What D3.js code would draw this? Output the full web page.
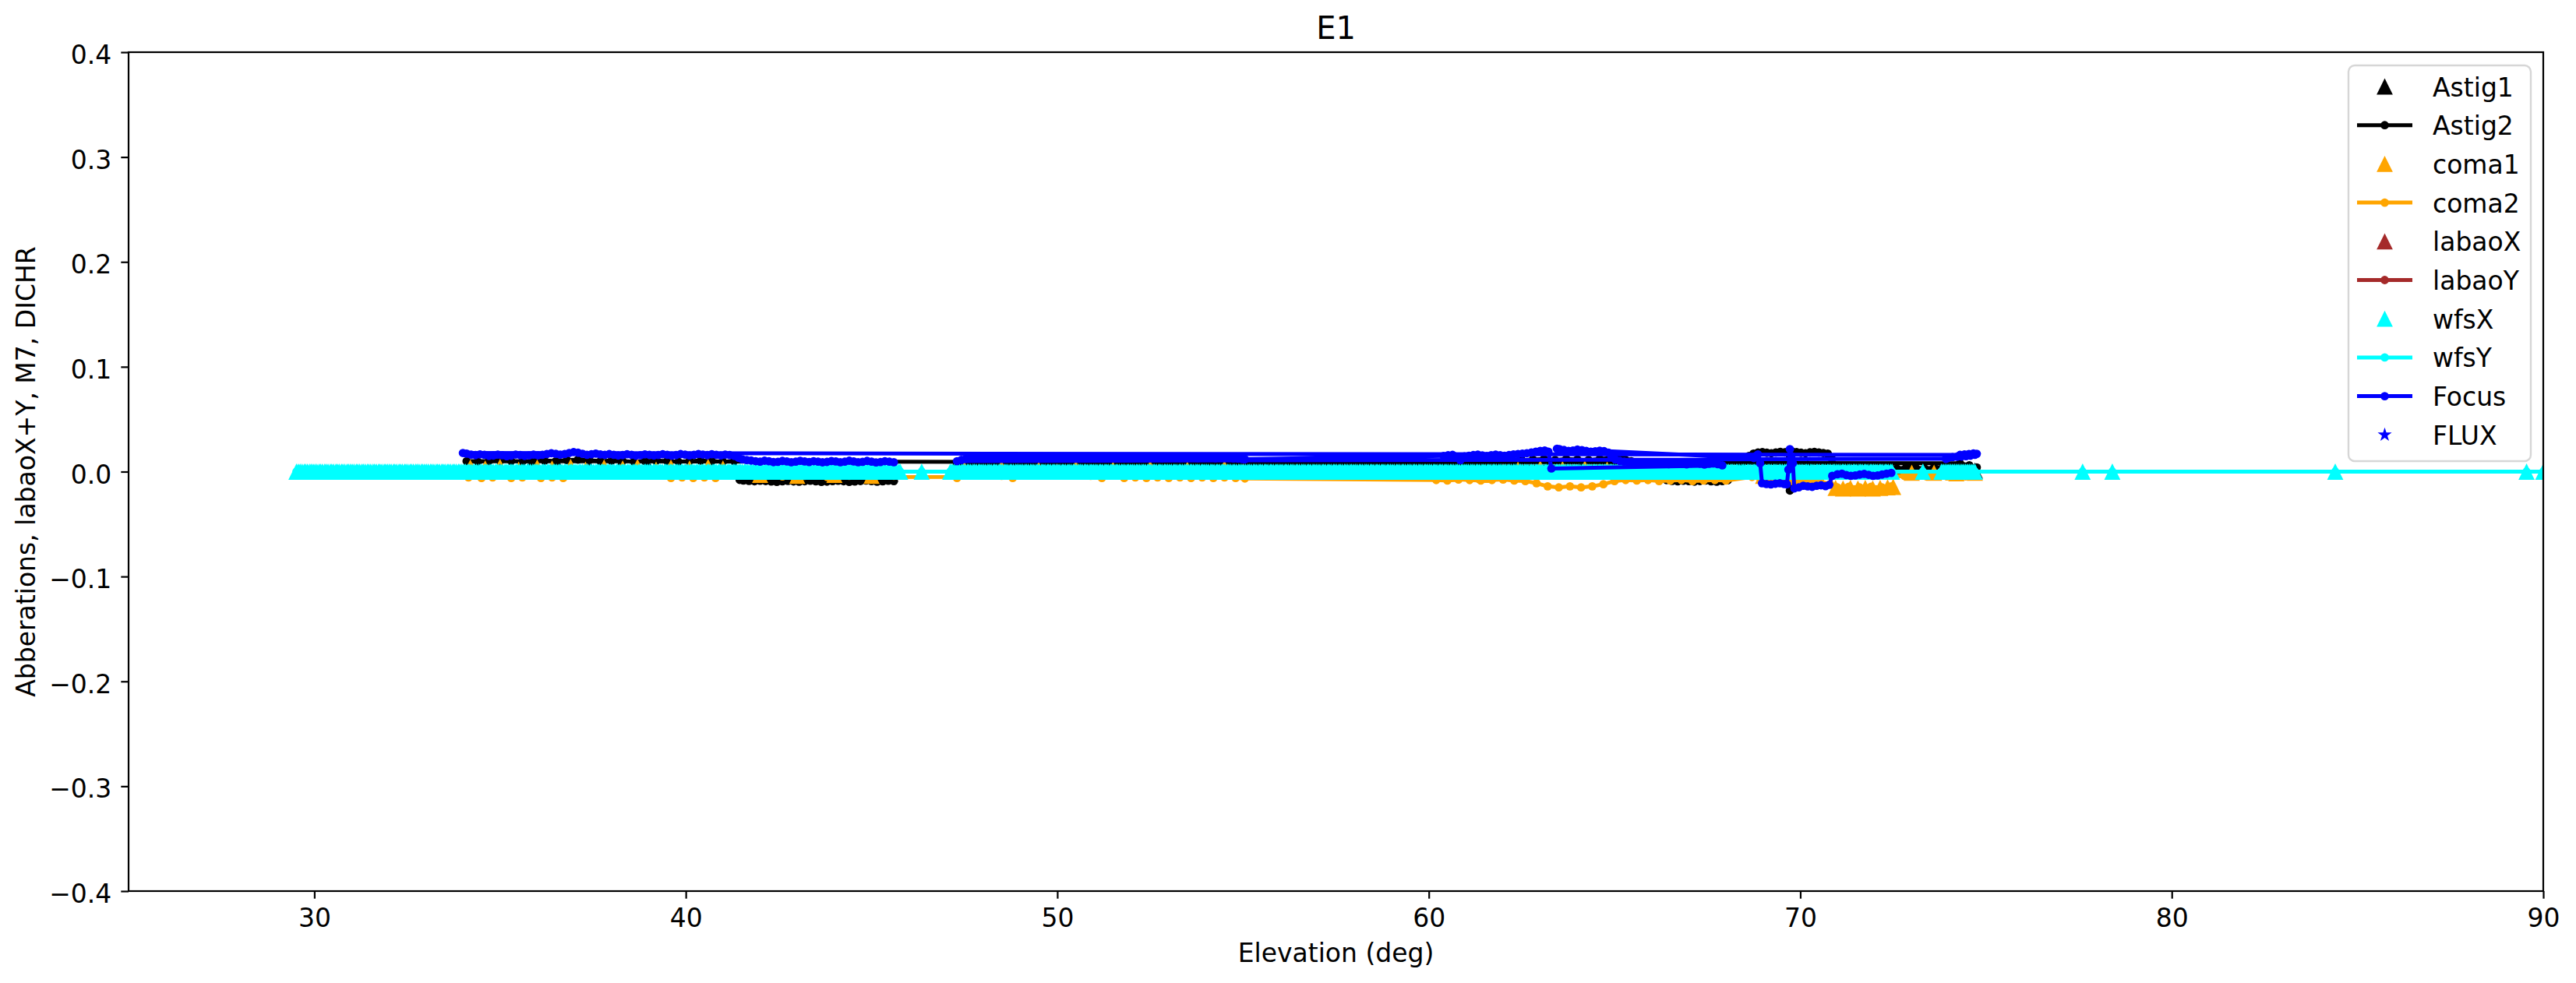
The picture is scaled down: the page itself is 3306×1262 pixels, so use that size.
<!DOCTYPE html>
<html><head><meta charset="utf-8">
<script src="https://cdn.jsdelivr.net/npm/d3@7"></script>
<style>
html,body{margin:0;padding:0;background:#fff}
svg{display:block}
text{font-family:"DejaVu Sans",sans-serif;fill:#000}
</style>
</head><body>
<svg id="chart" width="3306" height="1262"></svg>
<script>
// ---------------- DATA ----------------
const titleText = "E1";
const xLabel = "Elevation (deg)";
const yLabel = "Abberations, labaoX+Y, M7, DICHR";
const xDomain = [25, 90];
const yDomain = [-0.4, 0.4];
const xTicks = [30, 40, 50, 60, 70, 80, 90];
const yTicks = [-0.4, -0.3, -0.2, -0.1, 0.0, 0.1, 0.2, 0.3, 0.4];
const seriesNames = ["Astig1","Astig2","coma1","coma2","labaoX","labaoY","wfsX","wfsY","Focus","FLUX"];

// wfsX / wfsY share elevations (one row per degree)
const wfsElev = [
 29.52,29.57,29.62,29.67,29.73, 29.77,29.82,29.88,29.92,29.97,                                                        // 29 (10)
 30.02,30.07,30.13,30.17,30.22, 30.28,30.32,30.37,30.43,30.47, 30.52,30.58,30.62,30.67,30.73, 30.77,30.82,30.88,30.92,30.97, // 30
 31.02,31.07,31.13,31.17,31.22, 31.28,31.32,31.37,31.43,31.47, 31.52,31.58,31.62,31.67,31.73, 31.77,31.82,31.88,31.92,31.97, // 31
 32.02,32.07,32.13,32.17,32.22, 32.28,32.32,32.37,32.43,32.47, 32.52,32.58,32.62,32.67,32.73, 32.77,32.82,32.88,32.92,32.97, // 32
 33.02,33.07,33.13,33.17,33.22, 33.28,33.32,33.37,33.43,33.47, 33.52,33.58,33.62,33.67,33.73, 33.77,33.82,33.88,33.92,33.97, // 33
 34.02,34.07,34.13,34.17,34.22, 34.28,34.32,34.37,34.43,34.47, 34.52,34.58,34.62,34.67,34.73, 34.77,34.82,34.88,34.92,34.97, // 34
 35.02,35.07,35.13,35.17,35.22, 35.28,35.32,35.37,35.43,35.47, 35.52,35.58,35.62,35.67,35.73, 35.77,35.82,35.88,35.92,35.97, // 35
 36.02,36.07,36.13,36.17,36.22, 36.28,36.32,36.37,36.43,36.47, 36.52,36.58,36.62,36.67,36.73, 36.77,36.82,36.88,36.92,36.97, // 36
 37.02,37.07,37.13,37.17,37.22, 37.28,37.32,37.37,37.43,37.47, 37.52,37.58,37.62,37.67,37.73, 37.77,37.82,37.88,37.92,37.97, // 37
 38.02,38.07,38.13,38.17,38.22, 38.28,38.32,38.37,38.43,38.47, 38.52,38.58,38.62,38.67,38.73, 38.77,38.82,38.88,38.92,38.97, // 38
 39.02,39.07,39.13,39.17,39.22, 39.28,39.32,39.37,39.43,39.47, 39.52,39.58,39.62,39.67,39.73, 39.77,39.82,39.88,39.92,39.97, // 39
 40.02,40.07,40.13,40.17,40.22, 40.28,40.32,40.37,40.43,40.47, 40.52,40.58,40.62,40.67,40.73, 40.77,40.82,40.88,40.92,40.97, // 40
 41.02,41.07,41.13,41.17,41.22, 41.28,41.32,41.37,41.43,41.47, 41.52,41.58,41.62,41.67,41.73, 41.77,41.82,41.88,41.92,41.97, // 41
 42.02,42.07,42.13,42.17,42.22, 42.28,42.32,42.37,42.43,42.47, 42.52,42.58,42.62,42.67,42.73, 42.77,42.82,42.88,42.92,42.97, // 42
 43.02,43.07,43.13,43.17,43.22, 43.28,43.32,43.37,43.43,43.47, 43.52,43.58,43.62,43.67,43.73, 43.77,43.82,43.88,43.92,43.97, // 43
 44.02,44.07,44.13,44.17,44.22, 44.28,44.32,44.37,44.43,44.47, 44.52,44.58,44.62,44.67,44.73, 44.77,44.82,44.88,44.92,44.97, // 44
 45.02,45.07,45.13,45.17,45.22, 45.28,45.32,45.37,45.43,45.47, 45.52,45.58,45.62,45.67,45.73, 45.77,                   // 45 (16)
 46.35,                                                                                                                // 46 (1)
 47.12,47.17,47.22,47.28,47.32, 47.37,47.43,47.47,47.52,47.58, 47.62,47.67,47.73,47.77,47.82, 47.88,47.92,47.97,       // 47 (18)
 48.02,48.07,48.13,48.17,48.22, 48.28,48.32,48.37,48.43,48.47, 48.52,48.58,48.62,48.67,48.73, 48.77,48.82,48.88,48.92,48.97, // 48
 49.02,49.07,49.13,49.17,49.22, 49.28,49.32,49.37,49.43,49.47, 49.52,49.58,49.62,49.67,49.73, 49.77,49.82,49.88,49.92,49.97, // 49
 50.02,50.07,50.13,50.17,50.22, 50.28,50.32,50.37,50.43,50.47, 50.52,50.58,50.62,50.67,50.73, 50.77,50.82,50.88,50.92,50.97, // 50
 51.02,51.07,51.13,51.17,51.22, 51.28,51.32,51.37,51.43,51.47, 51.52,51.58,51.62,51.67,51.73, 51.77,51.82,51.88,51.92,51.97, // 51
 52.02,52.07,52.13,52.17,52.22, 52.28,52.32,52.37,52.43,52.47, 52.52,52.58,52.62,52.67,52.73, 52.77,52.82,52.88,52.92,52.97, // 52
 53.02,53.07,53.13,53.17,53.22, 53.28,53.32,53.37,53.43,53.47, 53.52,53.58,53.62,53.67,53.73, 53.77,53.82,53.88,53.92,53.97, // 53
 54.02,54.07,54.13,54.17,54.22, 54.28,54.32,54.37,54.43,54.47, 54.52,54.58,54.62,54.67,54.73, 54.77,54.82,54.88,54.92,54.97, // 54
 55.02,55.07,55.13,55.17,55.22, 55.28,55.32,55.37,55.43,55.47, 55.52,55.58,55.62,55.67,55.73, 55.77,55.82,55.88,55.92,55.97, // 55
 56.02,56.07,56.13,56.17,56.22, 56.28,56.32,56.37,56.43,56.47, 56.52,56.58,56.62,56.67,56.73, 56.77,56.82,56.88,56.92,56.97, // 56
 57.02,57.07,57.13,57.17,57.22, 57.28,57.32,57.37,57.43,57.47, 57.52,57.58,57.62,57.67,57.73, 57.77,57.82,57.88,57.92,57.97, // 57
 58.02,58.07,58.13,58.17,58.22, 58.28,58.32,58.37,58.43,58.47, 58.52,58.58,58.62,58.67,58.73, 58.77,58.82,58.88,58.92,58.97, // 58
 59.02,59.07,59.13,59.17,59.22, 59.28,59.32,59.37,59.43,59.47, 59.52,59.58,59.62,59.67,59.73, 59.77,59.82,59.88,59.92,59.97, // 59
 60.02,60.07,60.13,60.17,60.22, 60.28,60.32,60.37,60.43,60.47, 60.52,60.58,60.62,60.67,60.73, 60.77,60.82,60.88,60.92,60.97, // 60
 61.02,61.07,61.13,61.17,61.22, 61.28,61.32,61.37,61.43,61.47, 61.52,61.58,61.62,61.67,61.73, 61.77,61.82,61.88,61.92,61.97, // 61
 62.02,62.07,62.13,62.17,62.22, 62.28,62.32,62.37,62.43,62.47, 62.52,62.58,62.62,62.67,62.73, 62.77,62.82,62.88,62.92,62.97, // 62
 63.02,63.07,63.13,63.17,63.22, 63.28,63.32,63.37,63.43,63.47, 63.52,63.58,63.62,63.67,63.73, 63.77,63.82,63.88,63.92,63.97, // 63
 64.02,64.07,64.13,64.17,64.22, 64.28,64.32,64.37,64.43,64.47, 64.52,64.58,64.62,64.67,64.73, 64.77,64.82,64.88,64.92,64.97, // 64
 65.02,65.07,65.13,65.17,65.22, 65.28,65.32,65.37,65.43,65.47, 65.52,65.58,65.62,65.67,65.73, 65.77,65.82,65.88,65.92,65.97, // 65
 66.02,66.07,66.13,66.17,66.22, 66.28,66.32,66.37,66.43,66.47, 66.52,66.58,66.62,66.67,66.73, 66.77,66.82,66.88,66.92,66.97, // 66
 67.02,67.07,67.13,67.17,67.22, 67.28,67.32,67.37,67.43,67.47, 67.52,67.58,67.62,67.67,67.73, 67.77,67.82,67.88,67.92,67.97, // 67
 68.02,68.07,68.13,68.17,68.22, 68.28,68.32,68.37,68.43,68.47, 68.52,68.58,68.62,68.67,68.73, 68.77,68.82,68.88,68.92,68.97, // 68
 69.02,69.07,69.13,69.17,69.22, 69.28,69.32,69.37,69.43,69.47, 69.52,69.58,69.62,69.67,69.73, 69.77,69.82,69.88,69.92,69.97, // 69
 70.02,70.07,70.13,70.17,70.22, 70.28,70.32,70.37,70.43,70.47, 70.52,70.58,70.62,70.67,70.73, 70.77,70.82,70.88,70.92,70.97, // 70
 71.02,71.07,71.13,71.17,71.22, 71.28,71.32,71.37,71.43,71.47, 71.52,71.58,71.62,71.67,71.73, 71.77,71.82,71.88,71.92,71.97, // 71
 72.02,72.07,72.13,72.17,72.22, 72.28,72.32,72.37,72.43,72.47,                                                        // 72 (10)
 73.30,                                                                                                                // 73 (1)
 73.80,73.85,73.90,73.95,74.00, 74.05,74.10,74.15,74.20,74.25, 74.30,74.35,74.40,74.45,74.50, 74.55,74.60,74.65,74.70, // 74 (19)
 77.60,78.40,84.40,89.55,90.00                                                                                         // far (5)
];
const wfsXVal = [
 0,0,0,0,0, 0,0,0,0,0,                               // 29 (10)
 0,0,0,0,0, 0,0,0,0,0, 0,0,0,0,0, 0,0,0,0,0,         // 30
 0,0,0,0,0, 0,0,0,0,0, 0,0,0,0,0, 0,0,0,0,0,         // 31
 0,0,0,0,0, 0,0,0,0,0, 0,0,0,0,0, 0,0,0,0,0,         // 32
 0,0,0,0,0, 0,0,0,0,0, 0,0,0,0,0, 0,0,0,0,0,         // 33
 0,0,0,0,0, 0,0,0,0,0, 0,0,0,0,0, 0,0,0,0,0,         // 34
 0,0,0,0,0, 0,0,0,0,0, 0,0,0,0,0, 0,0,0,0,0,         // 35
 0,0,0,0,0, 0,0,0,0,0, 0,0,0,0,0, 0,0,0,0,0,         // 36
 0,0,0,0,0, 0,0,0,0,0, 0,0,0,0,0, 0,0,0,0,0,         // 37
 0,0,0,0,0, 0,0,0,0,0, 0,0,0,0,0, 0,0,0,0,0,         // 38
 0,0,0,0,0, 0,0,0,0,0, 0,0,0,0,0, 0,0,0,0,0,         // 39
 0,0,0,0,0, 0,0,0,0,0, 0,0,0,0,0, 0,0,0,0,0,         // 40
 0,0,0,0,0, 0,0,0,0,0, 0,0,0,0,0, 0,0,0,0,0,         // 41
 0,0,0,0,0, 0,0,0,0,0, 0,0,0,0,0, 0,0,0,0,0,         // 42
 0,0,0,0,0, 0,0,0,0,0, 0,0,0,0,0, 0,0,0,0,0,         // 43
 0,0,0,0,0, 0,0,0,0,0, 0,0,0,0,0, 0,0,0,0,0,         // 44
 0,0,0,0,0, 0,0,0,0,0, 0,0,0,0,0, 0,                 // 45 (16)
 0,                                                  // 46 (1)
 0,0,0,0,0, 0,0,0,0,0, 0,0,0,0,0, 0,0,0,             // 47 (18)
 0,0,0,0,0, 0,0,0,0,0, 0,0,0,0,0, 0,0,0,0,0,         // 48
 0,0,0,0,0, 0,0,0,0,0, 0,0,0,0,0, 0,0,0,0,0,         // 49
 0,0,0,0,0, 0,0,0,0,0, 0,0,0,0,0, 0,0,0,0,0,         // 50
 0,0,0,0,0, 0,0,0,0,0, 0,0,0,0,0, 0,0,0,0,0,         // 51
 0,0,0,0,0, 0,0,0,0,0, 0,0,0,0,0, 0,0,0,0,0,         // 52
 0,0,0,0,0, 0,0,0,0,0, 0,0,0,0,0, 0,0,0,0,0,         // 53
 0,0,0,0,0, 0,0,0,0,0, 0,0,0,0,0, 0,0,0,0,0,         // 54
 0,0,0,0,0, 0,0,0,0,0, 0,0,0,0,0, 0,0,0,0,0,         // 55
 0,0,0,0,0, 0,0,0,0,0, 0,0,0,0,0, 0,0,0,0,0,         // 56
 0,0,0,0,0, 0,0,0,0,0, 0,0,0,0,0, 0,0,0,0,0,         // 57
 0,0,0,0,0, 0,0,0,0,0, 0,0,0,0,0, 0,0,0,0,0,         // 58
 0,0,0,0,0, 0,0,0,0,0, 0,0,0,0,0, 0,0,0,0,0,         // 59
 0,0,0,0,0, 0,0,0,0,0, 0,0,0,0,0, 0,0,0,0,0,         // 60
 0,0,0,0,0, 0,0,0,0,0, 0,0,0,0,0, 0,0,0,0,0,         // 61
 0,0,0,0,0, 0,0,0,0,0, 0,0,0,0,0, 0,0,0,0,0,         // 62
 0,0,0,0,0, 0,0,0,0,0, 0,0,0,0,0, 0,0,0,0,0,         // 63
 0,0,0,0,0, 0,0,0,0,0, 0,0,0,0,0, 0,0,0,0,0,         // 64
 0,0,0,0,0, 0,0,0,0,0, 0,0,0,0,0, 0,0,0,0,0,         // 65
 0,0,0,0,0, 0,0,0,0,0, 0,0,0,0,0, 0,0,0,0,0,         // 66
 0,0,0,0,0, 0,0,0,0,0, 0,0,0,0,0, 0,0,0,0,0,         // 67
 0,0,0,0,0, 0,0,0,0,0, 0,0,0,0,0, 0,0,0,0,0,         // 68
 0,0,0,0,0, 0,0,0,0,0, 0,0,0,0,0, 0,0,0,0,0,         // 69
 0,0,0,0,0, 0,0,0,0,0, 0,0,0,0,0, 0,0,0,0,0,         // 70
 0,0,0,0,0, 0,0,0,0,0, 0,0,0,0,0, 0,0,0,0,0,         // 71
 0,0,0,0,0, 0,0,0,0,0,                               // 72 (10)
 0,                                                  // 73 (1)
 0,0,0,0,0, 0,0,0,0,0, 0,0,0,0,0, 0,0,0,0,           // 74 (19)
 0,0,0,0,0                                           // far (5)
];
const wfsYVal = [
 0,0,0,0,0, 0,0,0,0,0,                               // 29 (10)
 0,0,0,0,0, 0,0,0,0,0, 0,0,0,0,0, 0,0,0,0,0,         // 30
 0,0,0,0,0, 0,0,0,0,0, 0,0,0,0,0, 0,0,0,0,0,         // 31
 0,0,0,0,0, 0,0,0,0,0, 0,0,0,0,0, 0,0,0,0,0,         // 32
 0,0,0,0,0, 0,0,0,0,0, 0,0,0,0,0, 0,0,0,0,0,         // 33
 0,0,0,0,0, 0,0,0,0,0, 0,0,0,0,0, 0,0,0,0,0,         // 34
 0,0,0,0,0, 0,0,0,0,0, 0,0,0,0,0, 0,0,0,0,0,         // 35
 0,0,0,0,0, 0,0,0,0,0, 0,0,0,0,0, 0,0,0,0,0,         // 36
 0,0,0,0,0, 0,0,0,0,0, 0,0,0,0,0, 0,0,0,0,0,         // 37
 0,0,0,0,0, 0,0,0,0,0, 0,0,0,0,0, 0,0,0,0,0,         // 38
 0,0,0,0,0, 0,0,0,0,0, 0,0,0,0,0, 0,0,0,0,0,         // 39
 0,0,0,0,0, 0,0,0,0,0, 0,0,0,0,0, 0,0,0,0,0,         // 40
 0,0,0,0,0, 0,0,0,0,0, 0,0,0,0,0, 0,0,0,0,0,         // 41
 0,0,0,0,0, 0,0,0,0,0, 0,0,0,0,0, 0,0,0,0,0,         // 42
 0,0,0,0,0, 0,0,0,0,0, 0,0,0,0,0, 0,0,0,0,0,         // 43
 0,0,0,0,0, 0,0,0,0,0, 0,0,0,0,0, 0,0,0,0,0,         // 44
 0,0,0,0,0, 0,0,0,0,0, 0,0,0,0,0, 0,                 // 45 (16)
 0,                                                  // 46 (1)
 0,0,0,0,0, 0,0,0,0,0, 0,0,0,0,0, 0,0,0,             // 47 (18)
 0,0,0,0,0, 0,0,0,0,0, 0,0,0,0,0, 0,0,0,0,0,         // 48
 0,0,0,0,0, 0,0,0,0,0, 0,0,0,0,0, 0,0,0,0,0,         // 49
 0,0,0,0,0, 0,0,0,0,0, 0,0,0,0,0, 0,0,0,0,0,         // 50
 0,0,0,0,0, 0,0,0,0,0, 0,0,0,0,0, 0,0,0,0,0,         // 51
 0,0,0,0,0, 0,0,0,0,0, 0,0,0,0,0, 0,0,0,0,0,         // 52
 0,0,0,0,0, 0,0,0,0,0, 0,0,0,0,0, 0,0,0,0,0,         // 53
 0,0,0,0,0, 0,0,0,0,0, 0,0,0,0,0, 0,0,0,0,0,         // 54
 0,0,0,0,0, 0,0,0,0,0, 0,0,0,0,0, 0,0,0,0,0,         // 55
 0,0,0,0,0, 0,0,0,0,0, 0,0,0,0,0, 0,0,0,0,0,         // 56
 0,0,0,0,0, 0,0,0,0,0, 0,0,0,0,0, 0,0,0,0,0,         // 57
 0,0,0,0,0, 0,0,0,0,0, 0,0,0,0,0, 0,0,0,0,0,         // 58
 0,0,0,0,0, 0,0,0,0,0, 0,0,0,0,0, 0,0,0,0,0,         // 59
 0,0,0,0,0, 0,0,0,0,0, 0,0,0,0,0, 0,0,0,0,0,         // 60
 0,0,0,0,0, 0,0,0,0,0, 0,0,0,0,0, 0,0,0,0,0,         // 61
 0,0,0,0,0, 0,0,0,0,0, 0,0,0,0,0, 0,0,0,0,0,         // 62
 0,0,0,0,0, 0,0,0,0,0, 0,0,0,0,0, 0,0,0,0,0,         // 63
 0,0,0,0,0, 0,0,0,0,0, 0,0,0,0,0, 0,0,0,0,0,         // 64
 0,0,0,0,0, 0,0,0,0,0, 0,0,0,0,0, 0,0,0,0,0,         // 65
 0,0,0,0,0, 0,0,0,0,0, 0,0,0,0,0, 0,0,0,0,0,         // 66
 0,0,0,0,0, 0,0,0,0,0, 0,0,0,0,0, 0,0,0,0,0,         // 67
 0,0,0,0,0, 0,0,0,0,0, 0,0,0,0,0, 0,0,0,0,0,         // 68
 0,0,0,0,0, 0,0,0,0,0, 0,0,0,0,0, 0,0,0,0,0,         // 69
 0,0,0,0,0, 0,0,0,0,0, 0,0,0,0,0, 0,0,0,0,0,         // 70
 0,0,0,0,0, 0,0,0,0,0, 0,0,0,0,0, 0,0,0,0,0,         // 71
 0,0,0,0,0, 0,0,0,0,0,                               // 72 (10)
 0,                                                  // 73 (1)
 0,0,0,0,0, 0,0,0,0,0, 0,0,0,0,0, 0,0,0,0,           // 74 (19)
 0,0,0,0,0                                           // far (5)
];

// Focus (time order, so the line jumps between elevations)
const focusElev = [
 45.60,45.48,45.36,45.24,45.12,45.00,44.88,44.76,44.64,44.52,44.40,44.28,44.16,44.04,43.92,43.80,43.68,43.56,
 43.44,43.32,43.20,43.08,42.96,42.84,42.72,42.60,42.48,42.36,42.24,42.12,42.00,41.88,41.76,41.64,41.52,41.42,
 41.30,41.18,41.06,40.94,40.82,40.70,40.58,40.46,40.34,40.22,40.10,39.98,39.86,39.74,39.62,39.50,39.38,39.26,
 39.14,39.02,38.90,38.78,38.66,38.54,38.42,38.30,38.18,38.06,37.94,37.82,37.70,37.58,37.46,37.34,37.22,37.10,
 36.98,36.86,36.74,36.62,36.50,36.38,36.26,36.14,36.02,35.90,35.78,35.66,35.54,35.42,35.30,35.18,35.06,34.94,
 34.82,34.70,34.58,34.46,34.34,34.22,34.10,34.00,
 74.30,74.42,74.54,74.66,74.75,74.70,74.58,74.46,74.34,74.22,74.10,73.98,73.92,
 47.30,47.42,47.54,47.66,47.78,47.90,48.02,48.14,48.26,48.38,48.50,48.62,48.74,48.86,48.98,49.10,49.22,49.34,
 49.46,49.58,49.70,49.82,49.94,50.06,50.18,50.30,50.42,50.54,50.66,50.78,50.90,51.02,51.14,51.26,51.38,51.50,
 51.62,51.74,51.86,51.98,52.10,52.22,52.34,52.46,52.58,52.70,52.82,52.94,53.06,53.18,53.30,53.42,53.54,53.66,
 53.78,53.90,54.02,54.14,54.26,54.38,54.50,54.62,54.74,54.86,54.98,55.05,
 60.40,60.52,60.64,60.76,60.85,60.96,61.08,61.20,61.32,61.44,61.56,61.68,61.80,61.92,62.04,62.16,62.28,62.40,
 62.52,62.64,62.76,62.88,63.00,63.12,63.22,63.30,
 67.90,67.78,67.66,67.54,67.42,67.30,67.18,67.06,66.94,66.82,66.70,66.58,66.46,66.34,66.22,66.10,65.98,65.86,
 65.74,65.62,65.50,65.38,65.26,65.14,65.02,64.92,64.84,64.72,64.60,64.48,64.36,64.24,64.12,64.00,63.88,63.76,
 63.64,63.52,63.45,
 68.75,68.80,68.86,68.92,68.97,69.09,69.21,69.33,69.45,69.57,69.64,69.68,69.72,69.76,69.80,69.84,69.96,70.08,
 70.20,70.32,70.44,70.56,70.68,70.78,70.86,
 71.00,71.12,71.24,71.36,71.48,71.60,71.72,71.84,71.96,72.08,72.20,72.32,72.45
];
const focusVal = [
 0.0090,0.0095,0.0100,0.0092,0.0088,0.0096,0.0102,0.0094,0.0090,0.0098,0.0104,0.0095,0.0090,0.0097,0.0101,0.0093,0.0089,0.0096,
 0.0100,0.0092,0.0098,0.0103,0.0095,0.0090,0.0097,0.0102,0.0094,0.0091,0.0099,0.0104,0.0096,0.0100,0.0106,0.0110,0.0118,0.0132,
 0.0150,0.0158,0.0162,0.0155,0.0160,0.0166,0.0158,0.0163,0.0168,0.0160,0.0155,0.0162,0.0167,0.0158,0.0153,0.0161,0.0166,0.0159,
 0.0154,0.0160,0.0165,0.0157,0.0152,0.0160,0.0166,0.0158,0.0154,0.0161,0.0167,0.0160,0.0164,0.0172,0.0166,0.0160,0.0170,0.0180,
 0.0186,0.0178,0.0168,0.0162,0.0170,0.0176,0.0168,0.0160,0.0156,0.0162,0.0155,0.0150,0.0158,0.0163,0.0152,0.0148,0.0157,0.0162,
 0.0154,0.0150,0.0160,0.0165,0.0158,0.0162,0.0172,0.0178,
 0.0160,0.0164,0.0168,0.0174,0.0170,0.0160,0.0152,0.0148,0.0145,0.0142,0.0138,0.0130,0.0122,
 0.0100,0.0112,0.0122,0.0128,0.0132,0.0136,0.0131,0.0135,0.0140,0.0134,0.0129,0.0133,0.0139,0.0136,0.0130,0.0134,0.0140,0.0135,
 0.0129,0.0134,0.0139,0.0133,0.0128,0.0135,0.0140,0.0134,0.0130,0.0136,0.0141,0.0135,0.0129,0.0133,0.0138,0.0132,0.0128,0.0135,
 0.0140,0.0134,0.0130,0.0136,0.0141,0.0135,0.0129,0.0134,0.0139,0.0133,0.0128,0.0134,0.0140,0.0135,0.0130,0.0136,0.0141,0.0134,
 0.0129,0.0135,0.0139,0.0133,0.0128,0.0134,0.0138,0.0131,0.0126,0.0124,0.0120,0.0118,
 0.0150,0.0156,0.0160,0.0140,0.0110,0.0145,0.0152,0.0158,0.0162,0.0155,0.0150,0.0157,0.0162,0.0156,0.0152,0.0158,0.0164,0.0168,
 0.0172,0.0176,0.0182,0.0190,0.0198,0.0202,0.0190,0.0030,
 0.0060,0.0072,0.0080,0.0075,0.0068,0.0076,0.0085,0.0079,0.0070,0.0074,0.0082,0.0078,0.0072,0.0080,0.0087,0.0083,0.0090,0.0086,
 0.0080,0.0085,0.0092,0.0089,0.0096,0.0102,0.0115,0.0140,0.0180,0.0195,0.0200,0.0194,0.0190,0.0197,0.0205,0.0210,0.0202,0.0198,
 0.0206,0.0214,0.0218,
 0.0130,0.0150,0.0165,0.0080,-0.0110,-0.0118,-0.0122,-0.0115,-0.0110,-0.0118,-0.0120,0.0020,0.0215,0.0150,0.0080,-0.0160,-0.0150,-0.0135,
 -0.0140,-0.0145,-0.0135,-0.0130,-0.0138,-0.0125,-0.0040,
 -0.0025,-0.0020,-0.0032,-0.0040,-0.0036,-0.0028,-0.0022,-0.0030,-0.0040,-0.0036,-0.0028,-0.0020,-0.0012
];

const astig2Elev = [
 45.60,45.45,45.30,45.15,45.00,44.85,44.70,44.55,44.40,44.25,44.10,43.95,43.80,43.65,43.50,43.35,43.20,43.05,
 42.90,42.75,42.60,42.45,42.30,42.15,42.00,41.85,41.70,41.55,41.45,
 41.30,41.00,40.70,40.40,40.10,39.80,39.50,39.20,38.90,38.60,38.30,38.00,37.70,37.40,37.10,36.80,36.50,36.20,
 35.90,35.60,35.30,35.00,34.70,34.40,34.10,
 74.30,74.55,74.75,74.60,74.35,74.10,73.85,73.60,73.35,73.10,72.85,72.60,
 47.30,47.60,47.90,48.20,48.50,48.80,49.10,49.40,49.70,50.00,50.30,50.60,50.90,51.20,51.50,51.80,52.10,52.40,
 52.70,53.00,53.30,53.60,53.90,54.20,54.50,54.80,55.05,
 60.40,60.70,61.00,61.30,61.60,61.90,62.20,62.50,62.80,63.10,63.40,63.70,64.00,64.30,64.60,64.90,65.20,65.45,
 65.70,66.00,66.40,66.55,66.70,66.85,67.00,67.15,67.30,67.45,67.60,67.75,67.90,68.05,
 68.40,68.62,68.74,68.86,68.98,69.10,69.22,69.34,69.46,69.58,69.66,69.72,69.78,69.90,70.02,70.14,70.26,70.38,
 70.50,70.62,70.74,70.85,
 71.00,71.30,71.60,71.90,72.20,72.45
];
const astig2Val = [
 -0.0090,-0.0086,-0.0092,-0.0096,-0.0090,-0.0085,-0.0089,-0.0094,-0.0097,-0.0091,-0.0086,-0.0090,-0.0095,-0.0098,-0.0092,-0.0087,-0.0091,-0.0096,
 -0.0093,-0.0088,-0.0092,-0.0097,-0.0094,-0.0089,-0.0086,-0.0091,-0.0088,-0.0084,-0.0078,
 0.0100,0.0095,0.0100,0.0105,0.0100,0.0095,0.0100,0.0105,0.0100,0.0095,0.0100,0.0105,0.0100,0.0110,0.0115,0.0110,0.0100,0.0105,
 0.0100,0.0095,0.0100,0.0105,0.0100,0.0095,0.0100,
 0.0080,0.0060,0.0040,0.0030,0.0040,0.0030,0.0040,0.0040,0.0030,0.0040,0.0040,0.0030,
 0.0070,0.0080,0.0085,0.0075,0.0080,0.0070,0.0075,0.0080,0.0070,0.0075,0.0080,0.0070,0.0075,0.0080,0.0070,0.0075,0.0080,0.0070,
 0.0075,0.0080,0.0070,0.0075,0.0080,0.0070,0.0075,0.0070,0.0070,
 0.0100,0.0110,0.0100,0.0105,0.0110,0.0100,0.0105,0.0110,0.0115,0.0120,0.0110,0.0120,0.0115,0.0110,0.0120,0.0130,0.0160,0.0100,
 0.0060,0.0020,-0.0080,-0.0088,-0.0092,-0.0086,-0.0090,-0.0095,-0.0089,-0.0085,-0.0092,-0.0096,-0.0090,-0.0082,
 0.0050,0.0150,0.0172,0.0182,0.0186,0.0180,0.0176,0.0183,0.0188,0.0184,0.0190,-0.0180,0.0192,0.0186,0.0180,0.0176,0.0184,0.0189,
 0.0183,0.0178,0.0172,0.0120,
 0.0040,0.0030,0.0040,0.0030,0.0040,0.0030
];

const astig1Elev = [34.20,35.00,35.80,36.60,37.40,38.20,39.00,39.80,40.60,41.60,42.40,43.20,44.00,44.80,45.50,
 47.40,48.30,49.20,50.10,51.00,51.90,52.80,53.70,54.60,60.50,61.40,62.30,63.20,64.10,65.00,65.90,66.80,67.70,
 68.80,69.50,70.20,71.00,71.80,72.60,73.00,73.60,74.20,74.70];
const astig1Val = [0.0030,0.0020,0.0030,0.0020,0.0030,0.0020,0.0030,0.0020,0.0030,-0.0030,-0.0030,-0.0020,-0.0030,-0.0030,-0.0020,
 0.0020,0.0020,0.0010,0.0020,0.0020,0.0010,0.0020,0.0010,0.0020,0.0030,0.0020,0.0030,0.0020,0.0030,0.0020,-0.0020,-0.0030,-0.0020,
 0.0040,0.0030,0.0040,0.0020,0.0010,0.0020,0.0020,0.0010,0.0020,0.0010];

const coma1Elev = [34.20,34.60,35.00,35.50,36.00,36.40,36.90,37.30,37.80,38.30,38.70,39.20,39.60,40.10,40.60,41.00,
 42.00,43.00,44.00,45.00,
 47.50,48.50,49.50,50.50,51.50,52.50,53.50,54.50,
 60.50,61.50,62.40,63.00,63.60,64.20,64.80,65.40,66.00,66.60,67.20,67.80,
 69.00,69.80,70.50,
 70.95,71.15,71.35,71.55,71.75,71.95,72.15,72.35,72.50,
 73.00,73.60,74.20,74.70];
const coma1Val = [0.0040,0.0030,0.0045,0.0020,0.0040,0.0030,0.0045,0.0020,0.0040,0.0030,0.0045,0.0020,0.0040,0.0030,0.0045,0.0030,
 -0.0030,-0.0040,-0.0030,-0.0040,
 0.0020,0.0030,0.0020,0.0030,0.0020,0.0030,0.0020,0.0030,
 -0.0020,-0.0030,0.0020,0.0030,0.0025,0.0030,0.0020,0.0030,0.0025,0.0030,0.0020,0.0025,
 -0.0040,-0.0050,-0.0060,
 -0.0155,-0.0160,-0.0155,-0.0160,-0.0155,-0.0160,-0.0155,-0.0150,-0.0145,
 -0.0010,-0.0010,-0.0015,-0.0010];

const coma2Elev = [
 45.60,45.00,44.40,43.80,43.20,42.60,42.00,41.45,
 41.30,41.00,40.80,40.50,40.20,39.90,39.60,39.30,39.00,38.70,38.40,38.10,37.80,37.50,37.20,36.70,36.40,36.10,
 35.80,35.60,35.30,35.00,34.80,34.50,34.15,
 74.70,74.45,74.20,73.95,73.70,73.40,73.10,72.80,
 47.30,47.60,47.90,48.20,48.50,48.80,49.10,49.40,49.70,50.00,50.30,50.60,50.90,51.20,51.50,51.80,52.10,52.40,
 52.70,53.00,53.30,53.60,53.90,54.20,54.50,54.80,55.05,
 60.20,60.50,60.80,61.10,61.40,61.70,62.00,62.30,62.60,62.90,63.20,63.50,63.80,64.10,64.40,64.70,65.00,65.30,
 65.60,65.90,66.20,66.50,66.80,67.10,67.40,67.70,68.00,
 68.70,69.00,69.30,69.60,69.90,70.20,70.50,70.80,
 71.00,71.30,71.60,71.90,72.20,72.45
];
const coma2Val = [
 -0.0040,-0.0045,-0.0040,-0.0050,-0.0040,-0.0045,-0.0040,-0.0035,
 -0.0030,-0.0035,-0.0060,-0.0055,-0.0060,-0.0055,-0.0060,-0.0030,-0.0035,-0.0030,-0.0035,-0.0030,-0.0035,-0.0030,-0.0035,-0.0060,-0.0055,-0.0060,
 -0.0030,-0.0055,-0.0060,-0.0035,-0.0055,-0.0060,-0.0055,
 -0.0040,-0.0045,-0.0040,-0.0045,-0.0040,-0.0045,-0.0040,-0.0040,
 -0.0060,-0.0035,-0.0030,-0.0035,-0.0040,-0.0060,-0.0030,-0.0035,-0.0030,-0.0035,-0.0030,-0.0035,-0.0040,-0.0060,-0.0035,-0.0060,-0.0055,-0.0060,
 -0.0055,-0.0060,-0.0055,-0.0060,-0.0055,-0.0060,-0.0055,-0.0060,-0.0065,
 -0.0080,-0.0085,-0.0075,-0.0080,-0.0085,-0.0080,-0.0075,-0.0085,-0.0090,-0.0110,-0.0140,-0.0150,-0.0140,-0.0150,-0.0140,-0.0120,-0.0090,-0.0080,
 -0.0085,-0.0080,-0.0090,-0.0085,-0.0080,-0.0090,-0.0085,-0.0080,-0.0085,
 -0.0050,-0.0080,-0.0085,-0.0080,-0.0090,-0.0085,-0.0090,-0.0120,
 -0.0150,-0.0145,-0.0150,-0.0145,-0.0150,-0.0140
];

const labaoElev = [35.00,40.00,44.00,50.00,55.00,62.00,67.00];
const labaoXVal = [0,0,0,0,0,0,0];
const labaoYVal = [0,0,0,0,0,0,0];

const fluxElev = [];
const fluxVal = [];

// --------------- DRAWING ---------------
const W = 3306, H = 1262;
const M = {left:165, right:3264, top:67, bottom:1144};
const svg = d3.select("#chart");
svg.append("rect").attr("width", W).attr("height", H).attr("fill", "#fff");

const x = d3.scaleLinear().domain(xDomain).range([M.left, M.right]);
const y = d3.scaleLinear().domain(yDomain).range([M.bottom, M.top]);

svg.append("defs").append("clipPath").attr("id", "clip")
  .append("rect").attr("x", M.left).attr("y", M.top)
  .attr("width", M.right - M.left).attr("height", M.bottom - M.top);

const TRI = 10.4, DOT = 5.4, LW = 5;
const triPath = `M0,${-TRI}L${TRI},${TRI}L${-TRI},${TRI}Z`;
function starPath(R) {
  const r = R * 0.381966, pts = [];
  for (let i = 0; i < 10; i++) {
    const a = -Math.PI / 2 + i * Math.PI / 5, rr = i % 2 ? r : R;
    pts.push([rr * Math.cos(a), rr * Math.sin(a)]);
  }
  return "M" + pts.map(p => p.join(",")).join("L") + "Z";
}

const series = [
  {name:"Astig1", elev:astig1Elev, val:astig1Val, color:"#000000", marker:"tri", line:false},
  {name:"Astig2", elev:astig2Elev, val:astig2Val, color:"#000000", marker:"dot", line:true},
  {name:"coma1",  elev:coma1Elev,  val:coma1Val,  color:"#ffa500", marker:"tri", line:false},
  {name:"coma2",  elev:coma2Elev,  val:coma2Val,  color:"#ffa500", marker:"dot", line:true},
  {name:"labaoX", elev:labaoElev,  val:labaoXVal, color:"#a52a2a", marker:"tri", line:false},
  {name:"labaoY", elev:labaoElev,  val:labaoYVal, color:"#a52a2a", marker:"dot", line:true},
  {name:"wfsX",   elev:wfsElev,    val:wfsXVal,   color:"#00ffff", marker:"tri", line:false},
  {name:"wfsY",   elev:wfsElev,    val:wfsYVal,   color:"#00ffff", marker:"dot", line:true},
  {name:"Focus",  elev:focusElev,  val:focusVal,  color:"#0000ff", marker:"dot", line:true},
  {name:"FLUX",   elev:fluxElev,   val:fluxVal,   color:"#0000ff", marker:"star", line:false}
];

const plot = svg.append("g").attr("clip-path", "url(#clip)");
const lineGen = d3.line().x(d => x(d[0])).y(d => y(d[1]));

series.forEach(s => {
  const pts = d3.zip(s.elev, s.val);
  const g = plot.append("g").attr("class", "series-" + s.name);
  if (s.line && pts.length) {
    g.append("path").datum(pts).attr("d", lineGen)
      .attr("fill", "none").attr("stroke", s.color).attr("stroke-width", LW)
      .attr("stroke-linejoin", "round").attr("stroke-linecap", "square");
  }
  if (s.marker === "dot") {
    g.selectAll("circle").data(pts).join("circle")
      .attr("cx", d => x(d[0])).attr("cy", d => y(d[1])).attr("r", DOT).attr("fill", s.color);
  } else if (s.marker === "tri") {
    g.selectAll("path.m").data(pts).join("path").attr("class", "m")
      .attr("d", triPath).attr("transform", d => `translate(${x(d[0])},${y(d[1])})`).attr("fill", s.color);
  } else if (s.marker === "star") {
    g.selectAll("path.m").data(pts).join("path").attr("class", "m")
      .attr("d", starPath(9.5)).attr("transform", d => `translate(${x(d[0])},${y(d[1])})`).attr("fill", s.color);
  }
});

// Axes
const FS = 33;
const xAxis = d3.axisBottom(x).tickValues(xTicks).tickFormat(d3.format("d"))
  .tickSize(9.7).tickPadding(13).tickSizeOuter(0);
const yAxis = d3.axisLeft(y).tickValues(yTicks).tickFormat(d3.format(".1f"))
  .tickSize(9.7).tickPadding(12).tickSizeOuter(0);

function styleAxis(g) {
  g.select(".domain").remove();
  g.selectAll(".tick line").attr("stroke", "#000").attr("stroke-width", 2.2);
  g.selectAll(".tick text").attr("font-size", FS).attr("font-family", "DejaVu Sans").attr("fill", "#000");
}
svg.append("g").attr("transform", `translate(0,${M.bottom})`).call(xAxis).call(styleAxis);
svg.append("g").attr("transform", `translate(${M.left},0)`).call(yAxis).call(styleAxis)
  .selectAll(".tick text").attr("dy", "0.44em");

svg.append("rect").attr("x", M.left).attr("y", M.top)
  .attr("width", M.right - M.left).attr("height", M.bottom - M.top)
  .attr("fill", "none").attr("stroke", "#000").attr("stroke-width", 2.2);

// Title and labels
svg.append("text").attr("x", (M.left + M.right) / 2).attr("y", 50)
  .attr("text-anchor", "middle").attr("font-size", 40).text(titleText);
svg.append("text").attr("x", (M.left + M.right) / 2).attr("y", 1235)
  .attr("text-anchor", "middle").attr("font-size", FS).text(xLabel);
svg.append("text").attr("transform", `translate(45,${(M.top + M.bottom) / 2}) rotate(-90)`)
  .attr("text-anchor", "middle").attr("font-size", FS).text(yLabel);

// Legend
const LG = {x0:3014, x1:3248, y0:84, y1:592, row0:111, step:49.7, hx0:3025, hx1:3096, hm:3060.5, tx:3122};
const leg = svg.append("g");
leg.append("rect").attr("x", LG.x0).attr("y", LG.y0).attr("width", LG.x1 - LG.x0).attr("height", LG.y1 - LG.y0)
  .attr("rx", 8).attr("ry", 8).attr("fill", "#fff").attr("fill-opacity", 0.8)
  .attr("stroke", "#d6d6d6").attr("stroke-width", 2.4);
series.forEach((s, i) => {
  const cy = LG.row0 + i * LG.step;
  const g = leg.append("g");
  if (s.line) g.append("line").attr("x1", LG.hx0).attr("x2", LG.hx1).attr("y1", cy).attr("y2", cy)
    .attr("stroke", s.color).attr("stroke-width", LW).attr("stroke-linecap", "butt");
  if (s.marker === "dot") g.append("circle").attr("cx", LG.hm).attr("cy", cy).attr("r", DOT).attr("fill", s.color);
  else if (s.marker === "tri") g.append("path").attr("d", triPath).attr("transform", `translate(${LG.hm},${cy})`).attr("fill", s.color);
  else g.append("path").attr("d", starPath(9.5)).attr("transform", `translate(${LG.hm},${cy})`).attr("fill", s.color);
  g.append("text").attr("x", LG.tx).attr("y", cy + 12.5).attr("font-size", FS).text(s.name);
});
</script>
</body></html>
